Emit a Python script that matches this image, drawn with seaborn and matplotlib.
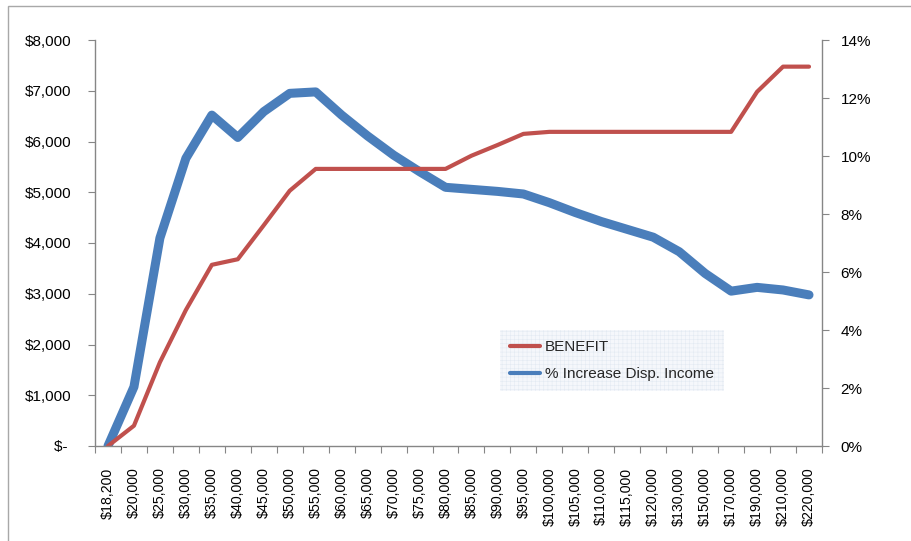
import matplotlib
matplotlib.use("Agg")
import matplotlib.pyplot as plt
import seaborn as sns
import numpy as np
import pandas as pd
from matplotlib.patches import Rectangle
from matplotlib.lines import Line2D
from matplotlib.ticker import FuncFormatter, FixedLocator

categories = ["$18,200", "$20,000", "$25,000", "$30,000", "$35,000", "$40,000", "$45,000",
              "$50,000", "$55,000", "$60,000", "$65,000", "$70,000", "$75,000", "$80,000",
              "$85,000", "$90,000", "$95,000", "$100,000", "$105,000", "$110,000", "$115,000",
              "$120,000", "$130,000", "$150,000", "$170,000", "$190,000", "$210,000", "$220,000"]
benefit = [0, 400, 1650, 2680, 3570, 3680, 4350, 5030, 5460, 5460, 5460, 5460, 5460, 5460,
           5720, 5930, 6150, 6190, 6190, 6190, 6190, 6190, 6190, 6190, 6190, 6980, 7475, 7475]
pct_increase = [0.0, 2.04, 7.17, 9.92, 11.41, 10.64, 11.53, 12.16, 12.21, 11.41, 10.69, 10.03,
                9.46, 8.92, 8.85, 8.78, 8.69, 8.39, 8.05, 7.74, 7.47, 7.20, 6.70, 5.95, 5.34,
                5.47, 5.38, 5.21]
left_ticks = [0, 1000, 2000, 3000, 4000, 5000, 6000, 7000, 8000]
right_ticks = [0, 2, 4, 6, 8, 10, 12, 14]

sns.set_theme(style="white")
plt.rcParams['font.family'] = ['Liberation Sans', 'DejaVu Sans']
plt.rcParams['hatch.linewidth'] = 0.4

df = pd.DataFrame({"idx": np.arange(len(categories)), "benefit": benefit, "pct": pct_increase})

fig = plt.figure(figsize=(9.12, 5.41), dpi=100)
ax = fig.add_axes([95/912, 1 - 446/541, (822-95)/912, (446-40)/541])
ax2 = ax.twinx()

red = "#C0504D"
blue = "#4A7EBB"
sns.lineplot(data=df, x="idx", y="pct", ax=ax2, color=blue, linewidth=6.5,
             legend=False, solid_capstyle="round")
sns.lineplot(data=df, x="idx", y="benefit", ax=ax, color=red, linewidth=3,
             legend=False)
ax.set_zorder(2)
ax.patch.set_visible(False)
ax2.set_zorder(1)

ax.set_xlim(-0.5, len(categories) - 0.5)
ax.set_ylim(0, 8000)
ax2.set_ylim(0, 14)

ax.xaxis.set_major_locator(FixedLocator(np.arange(len(categories))))
ax.set_xticklabels(categories, rotation=90, fontsize=10.2)
ax.xaxis.set_minor_locator(FixedLocator(np.arange(-0.5, len(categories), 1.0)))
ax.tick_params(axis="x", which="major", length=0, pad=15.5, colors="black")
ax.tick_params(axis="x", which="minor", length=5, width=0.8, color="#868686",
               direction="out", bottom=True)

ax.set_yticks(left_ticks)
ax.yaxis.set_major_formatter(FuncFormatter(lambda v, p: "$- " if v == 0 else f"${int(v):,}"))
ax.tick_params(axis="y", which="major", length=5, width=0.8, color="#868686", direction="out",
               left=True, labelsize=11, pad=12, labelcolor="black")
ax2.set_yticks(right_ticks)
ax2.yaxis.set_major_formatter(FuncFormatter(lambda v, p: f"{int(v)}%"))
ax2.tick_params(axis="y", which="major", length=5, width=0.8, color="#868686", direction="out",
                right=True, labelsize=11, pad=8.5, labelcolor="black")

ax.set_xlabel("")
ax.set_ylabel("")
ax2.set_ylabel("")

for a in (ax, ax2):
    a.spines["top"].set_visible(False)
    for s in ("left", "right", "bottom"):
        a.spines[s].set_color("#868686")
        a.spines[s].set_linewidth(1.0)
ax.spines["right"].set_visible(False)
ax2.spines["left"].set_visible(False)
ax2.spines["bottom"].set_visible(False)

handles = [Line2D([], [], color=red, linewidth=3), Line2D([], [], color=blue, linewidth=3)]
leg = ax.legend(handles, ["BENEFIT", "% Increase Disp. Income"],
                loc="upper left", bbox_to_anchor=((500-95)/727, (446-330)/406),
                borderaxespad=0, frameon=True, fontsize=11, handlelength=2.0,
                handletextpad=0.3, borderpad=0.65, labelspacing=0.85)
frame = leg.get_frame()
frame.set_facecolor("#f3f6fa")
frame.set_edgecolor("#dfe7f0")
frame.set_linewidth(0)
frame.set_hatch("++++")
frame.set_boxstyle("square", pad=0)

fig.patches.append(Rectangle((8/912, -0.1), 1.2, 1.1 - 6/541,
                             transform=fig.transFigure, fill=False,
                             edgecolor="#a8a8a8", linewidth=1.0))

fig.savefig("out.png", dpi=100)
